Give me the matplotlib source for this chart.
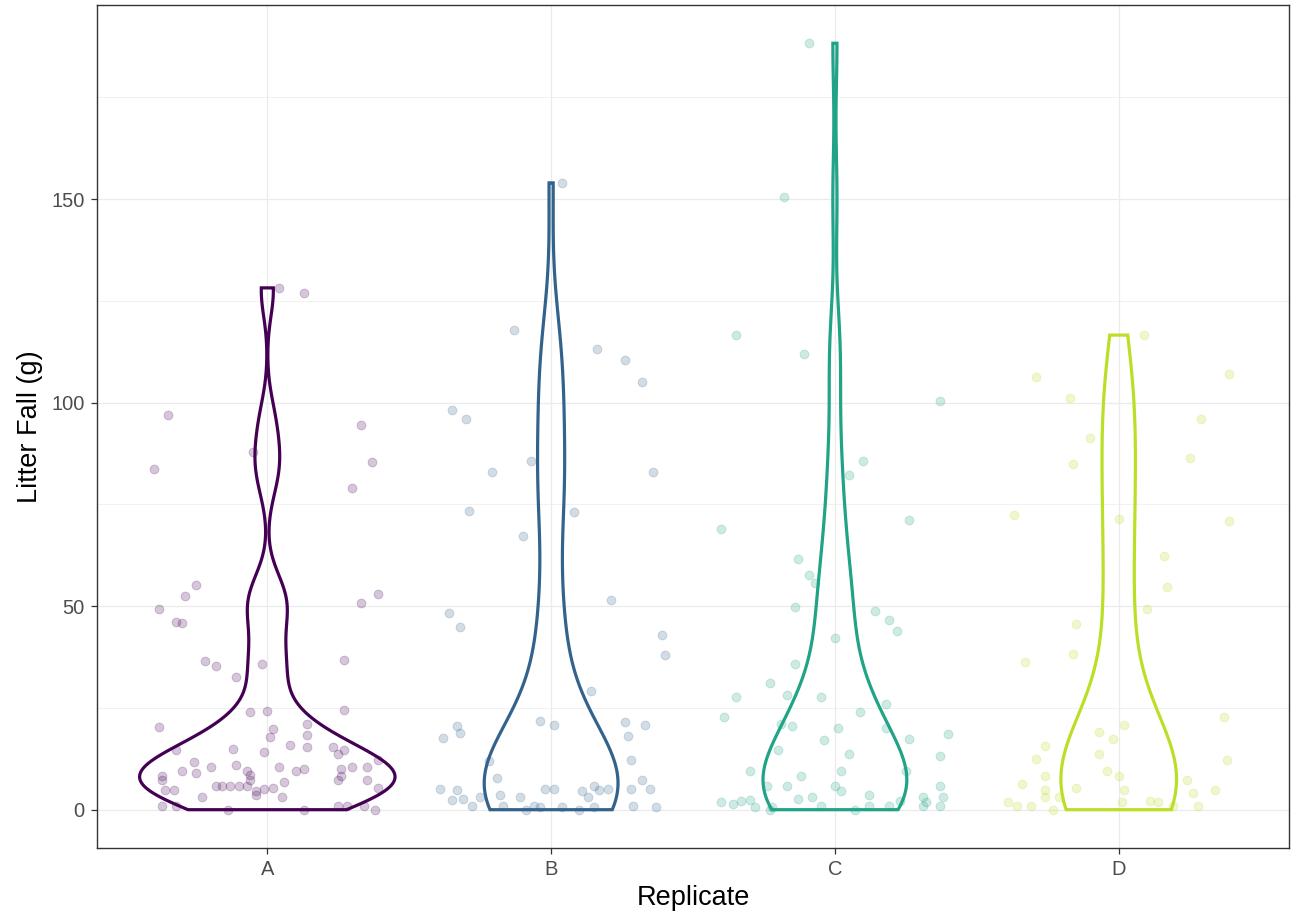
import numpy as np
import matplotlib
matplotlib.use("Agg")
import matplotlib.pyplot as plt
from matplotlib.ticker import MultipleLocator

plt.rcParams["font.family"] = ["Liberation Sans", "DejaVu Sans"]

replicates = ["A", "B", "C", "D"]
colors = ["#440154", "#33638D", "#20A386", "#BBDF27"]

# litter fall (g) and the horizontal jitter offset of each point
A_y = [128.2, 127.0, 96.9, 83.8, 94.6, 85.5, 79.1, 88.0, 55.1, 52.4, 49.4, 46.2, 45.8, 53.1, 50.9,
       36.6, 35.3, 32.6, 35.8, 36.8, 24.5,
       20.3, 24.0, 24.2, 19.8, 17.8, 21.0, 18.3,
       14.6, 14.8, 14.1, 15.8, 15.3, 15.3, 13.6, 14.6, 12.1,
       11.6, 9.6, 9.1, 10.4, 10.9, 9.6, 8.6, 10.4, 9.6, 10.1, 9.9, 10.4, 10.4,
       8.4, 7.2, 4.9, 4.9, 5.9, 5.9, 5.9, 5.9, 5.7, 7.4, 4.7, 5.2, 5.4, 6.7, 7.4, 8.4, 7.2, 5.4,
       3.2, 3.5, 3.0,
       1.0, 1.0, 0.0, 0.0, 1.0, 1.0, 1.0, 0.0]
A_dx = [0.04, 0.13, -0.35, -0.40, 0.33, 0.37, 0.30, -0.05, -0.25, -0.29, -0.38, -0.32, -0.30, 0.39, 0.33,
        -0.22, -0.18, -0.11, -0.02, 0.27, 0.27,
        -0.38, -0.06, 0.00, 0.02, 0.01, 0.14, 0.14,
        -0.32, -0.12, -0.01, 0.08, 0.14, 0.23, 0.25, 0.27, 0.39,
        -0.26, -0.30, -0.25, -0.20, -0.11, -0.07, -0.06, 0.04, 0.10, 0.13, 0.26, 0.30, 0.35,
        -0.37, -0.37, -0.33, -0.36, -0.18, -0.16, -0.13, -0.10, -0.07, -0.06, -0.04, -0.01, 0.02, 0.06, 0.25, 0.26, 0.35, 0.39,
        -0.23, -0.04, 0.05,
        -0.37, -0.32, -0.14, 0.13, 0.25, 0.28, 0.34, 0.38]

B_y = [154.0, 117.9, 113.2, 110.5, 105.1, 98.3, 95.9, 85.7, 83.0, 83.0, 73.4, 73.2, 67.2, 51.4, 48.4,
       45.0, 43.0, 38.0, 29.1,
       21.7, 20.7, 21.5, 20.8, 20.5, 18.8, 17.5, 18.0, 12.1, 11.9, 7.9, 7.4, 5.2, 5.2, 4.9, 5.2, 5.2,
       5.9, 4.9, 5.2, 5.2, 4.7, 3.2, 3.5, 3.2, 2.5, 2.7, 3.2,
       1.0, 1.0, 0.0, 1.0, 0.7, 0.7, 0.0, 0.7, 1.0, 0.7]
B_dx = [0.04, -0.13, 0.16, 0.26, 0.32, -0.35, -0.30, -0.07, -0.21, 0.36, -0.29, 0.08, -0.10, 0.21, -0.36,
        -0.32, 0.39, 0.40, 0.14,
        -0.04, 0.01, 0.26, 0.33, -0.33, -0.32, -0.38, 0.27, 0.28, -0.22, -0.19, 0.32, 0.35, -0.39, -0.33, -0.02, 0.01,
        0.15, 0.17, 0.20, 0.28, 0.11, 0.13, -0.18, -0.11, -0.35, -0.31, -0.25,
        -0.28, -0.17, -0.09, -0.06, -0.04, 0.04, 0.10, 0.15, 0.29, 0.37]

C_y = [188.3, 150.5, 116.6, 112.0, 100.3, 85.7, 82.3, 68.9, 71.2, 61.5, 57.6, 55.6, 48.7, 46.7, 44.0,
       49.9, 42.3, 35.8, 31.1, 27.7, 22.7,
       28.2, 27.7, 25.9, 24.0, 21.0, 20.5, 20.0, 20.0, 17.0, 17.3, 18.5, 14.6, 13.6, 13.1,
       9.6, 9.4, 9.6, 8.4, 5.7, 5.7, 5.7, 5.9, 4.7, 2.7, 3.2, 3.5, 3.0, 3.0, 2.2, 2.5,
       0.7, 0.0, 0.7, 1.0, 0.0, 1.0, 1.0, 2.2, 2.0, 1.0, 1.0, 2.0, 1.5]
C_dx = [-0.09, -0.18, -0.35, -0.11, 0.37, 0.10, 0.05, -0.40, 0.26, -0.13, -0.09, -0.07, 0.14, 0.19, 0.22,
        -0.14, 0.00, -0.14, -0.23, -0.35, -0.39,
        -0.17, -0.05, 0.18, 0.09, -0.19, -0.15, 0.01, 0.18, -0.04, 0.26, 0.40, -0.20, 0.05, 0.37,
        -0.30, 0.02, 0.25, -0.12, -0.24, -0.17, 0.00, 0.37, 0.02, -0.13, -0.08, 0.12, 0.31, 0.38, -0.33, -0.30,
        -0.28, -0.23, -0.22, -0.05, 0.07, 0.12, 0.19, 0.23, 0.32, 0.37, 0.31, -0.40, -0.36]

D_y = [116.6, 106.3, 107.0, 101.1, 95.9, 91.4, 85.0, 86.5, 72.4, 71.4, 70.9, 62.3, 54.6, 49.4, 45.7,
       38.3, 36.3, 22.7, 20.8,
       19.0, 17.3, 15.6, 12.4, 13.6, 12.1, 9.6, 8.4, 8.4, 6.2, 7.2, 4.9, 4.9, 4.9, 4.2, 5.4,
       3.2, 3.2, 2.0, 1.0, 1.0, 0.0, 2.0, 2.2, 2.0, 1.0, 1.0]
D_dx = [0.09, -0.29, 0.39, -0.17, 0.29, -0.10, -0.16, 0.25, -0.37, 0.00, 0.39, 0.16, 0.17, 0.10, -0.15,
        -0.16, -0.33, 0.37, 0.02,
        -0.07, -0.02, -0.26, -0.29, -0.07, 0.38, -0.04, 0.00, -0.26, -0.34, 0.24, 0.34, -0.26, 0.02, 0.26, -0.15,
        -0.21, -0.26, -0.39, -0.36, -0.31, -0.23, 0.01, 0.11, 0.14, 0.28, 0.19]

groups_y = [A_y, B_y, C_y, D_y]
groups_dx = [A_dx, B_dx, C_dx, D_dx]


def bw_nrd0(x):
    hi = np.std(x, ddof=1)
    q75, q25 = np.percentile(x, [75, 25])
    lo = min(hi, (q75 - q25) / 1.34)
    return 0.9 * lo * len(x) ** -0.2


def density(x, n=512):
    x = np.asarray(x)
    bw = bw_nrd0(x)
    grid = np.linspace(x.min(), x.max(), n)
    z = (grid[:, None] - x[None, :]) / bw
    d = np.exp(-0.5 * z ** 2).sum(axis=1) / (len(x) * bw * np.sqrt(2 * np.pi))
    return grid, d


dens = [density(y) for y in groups_y]
dmax = max(d.max() for _, d in dens)

fig, ax = plt.subplots(figsize=(12.99, 9.24), dpi=100)
fig.subplots_adjust(left=0.0747, right=0.9923, top=0.9946, bottom=0.0823)

for i, (y, dx) in enumerate(zip(groups_y, groups_dx)):
    pos = i + 1
    ax.scatter(pos + np.array(dx), y, s=40, color=colors[i], alpha=0.22,
               linewidths=0.7, zorder=2)
    grid, d = dens[i]
    half = 0.45 * d / dmax
    xs = np.concatenate([pos - half, (pos + half)[::-1]])
    ys = np.concatenate([grid, grid[::-1]])
    ax.fill(xs, ys, fill=False, edgecolor=colors[i], linewidth=2.3, zorder=3)

ax.set_xlim(0.4, 4.6)
ax.set_ylim(-9.4, 197.7)
ax.set_xticks(range(1, 5))
ax.set_xticklabels(replicates)
ax.yaxis.set_major_locator(MultipleLocator(50))
ax.yaxis.set_minor_locator(MultipleLocator(25))

ax.grid(True, which="major", color="#EBEBEB", linewidth=0.9, zorder=0)
ax.grid(True, which="minor", axis="y", color="#EBEBEB", linewidth=0.5, zorder=0)
ax.set_axisbelow(True)
for s in ax.spines.values():
    s.set_color("#333333")
    s.set_linewidth(1.0)
ax.tick_params(which="major", color="#333333", length=4, width=0.9,
               labelsize=14.5, labelcolor="#4D4D4D", pad=5)
ax.tick_params(which="minor", length=0)

ax.set_xlabel("Replicate", fontsize=19.5, labelpad=4)
ax.set_ylabel("Litter Fall (g)", fontsize=19.5, labelpad=6)

plt.savefig("out.png", dpi=100)
